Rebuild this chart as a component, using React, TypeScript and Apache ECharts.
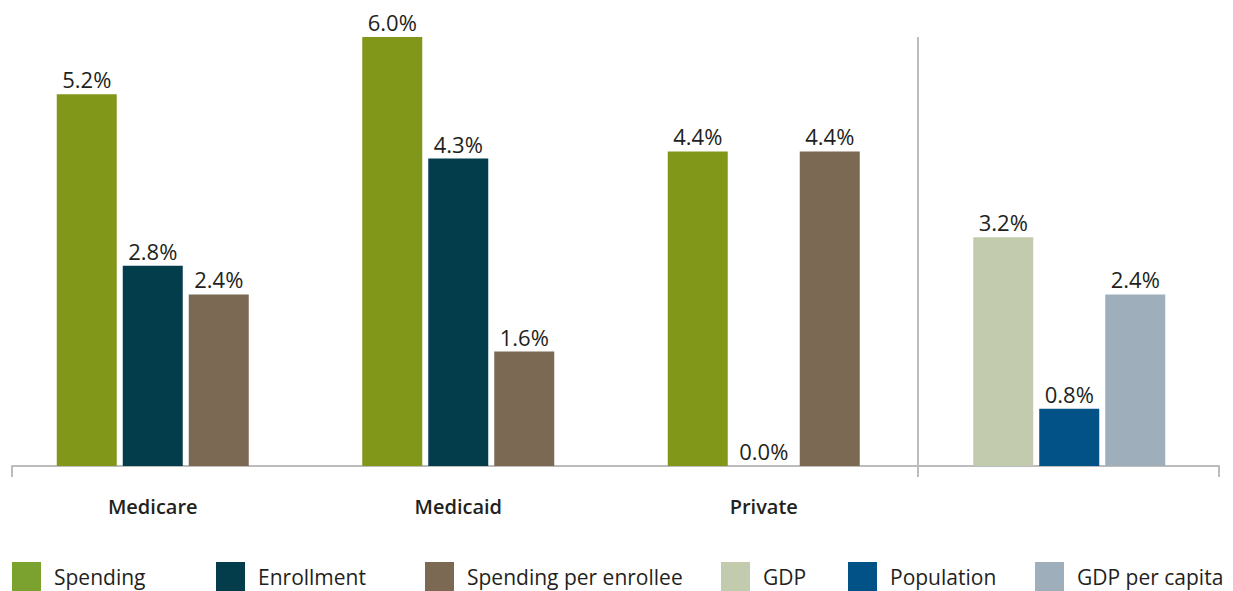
import React, { useEffect, useRef } from "react";
import * as echarts from "echarts";

const categories = ["Medicare", "Medicaid", "Private", ""];
const spending = [5.2, 6.0, 4.4, null];
const enrollment = [2.8, 4.3, 0.0, null];
const spendingPerEnrollee = [2.4, 1.6, 4.4, null];
const gdp = [null, null, null, 3.2];
const population = [null, null, null, 0.8];
const gdpPerCapita = [null, null, null, 2.4];

const seriesDefs = [
  { name: "Spending", data: spending, stack: "a", color: "#80971a", legendColor: "#7ba22e" },
  { name: "Enrollment", data: enrollment, stack: "b", color: "#033d4c", legendColor: "#033d4c" },
  { name: "Spending per enrollee", data: spendingPerEnrollee, stack: "c", color: "#7b6954", legendColor: "#7b6954" },
  { name: "GDP", data: gdp, stack: "a", color: "#c3cbae", legendColor: "#c3cbae" },
  { name: "Population", data: population, stack: "b", color: "#025187", legendColor: "#025187" },
  { name: "GDP per capita", data: gdpPerCapita, stack: "c", color: "#9eafbb", legendColor: "#9eafbb" },
];

const legendLefts = [12, 216, 425, 721, 848, 1035];

const FONT = "'Open Sans', sans-serif";
const AXIS_COLOR = "#bcbcbc";
const TEXT_COLOR = "#231f20";

export default function App() {
  const ref = useRef<HTMLDivElement>(null);
  useEffect(() => {
    if (!ref.current) return;
    const chart = echarts.init(ref.current, null, { renderer: "svg" });
    const showIdx = (i: number) => i === 0 || i === 3;
    chart.setOption({
      animation: false,
      textStyle: { fontFamily: FONT },
      grid: [
        // bars
        { left: -10, right: 11, top: 37, bottom: 125, containLabel: false },
        // axis frame
        { left: 12, right: 14, top: 37, bottom: 125, containLabel: false },
      ],
      legend: seriesDefs.map((s, i) => ({
        data: [{ name: s.name, itemStyle: { color: s.legendColor } }],
        left: legendLefts[i],
        top: 562,
        padding: 0,
        icon: "rect",
        itemWidth: 29,
        itemHeight: 29,
        selectedMode: false,
        textStyle: { fontSize: 21, color: TEXT_COLOR, fontFamily: FONT, padding: [0, 0, 0, 8] },
      })),
      xAxis: [
        {
          type: "category",
          gridIndex: 0,
          data: categories,
          axisLine: { show: false },
          axisTick: { show: false },
          splitLine: { show: false },
          axisLabel: { fontSize: 20, fontWeight: 600, color: TEXT_COLOR, margin: 30, fontFamily: FONT },
        },
        {
          type: "category",
          gridIndex: 1,
          data: categories,
          axisLine: { show: true, lineStyle: { color: AXIS_COLOR, width: 2 } },
          axisTick: { show: true, length: 11, interval: showIdx, lineStyle: { color: AXIS_COLOR, width: 2 } },
          splitLine: {
            show: true,
            interval: showIdx,
            showMinLine: false,
            showMaxLine: false,
            lineStyle: { color: AXIS_COLOR, width: 2 },
          },
          axisLabel: { show: false },
        },
      ],
      yAxis: [
        { type: "value", gridIndex: 0, min: 0, max: 6, show: false, splitLine: { show: false } },
        { type: "value", gridIndex: 1, min: 0, max: 6, show: false, splitLine: { show: false } },
      ],
      series: seriesDefs.map((s) => ({
        name: s.name,
        type: "bar",
        xAxisIndex: 0,
        yAxisIndex: 0,
        stack: s.stack,
        data: s.data,
        barWidth: 60,
        barGap: "10%",
        itemStyle: { color: s.color },
        label: {
          show: true,
          position: "top",
          distance: 4,
          fontSize: 22,
          color: TEXT_COLOR,
          fontFamily: FONT,
          formatter: (p: any) => (p.value == null ? "" : Number(p.value).toFixed(1) + "%"),
        },
      })),
    });
    return () => chart.dispose();
  }, []);
  return (
    <div
      ref={ref}
      style={{ position: "absolute", left: 0, top: 0, width: 1233, height: 591 }}
    />
  );
}
